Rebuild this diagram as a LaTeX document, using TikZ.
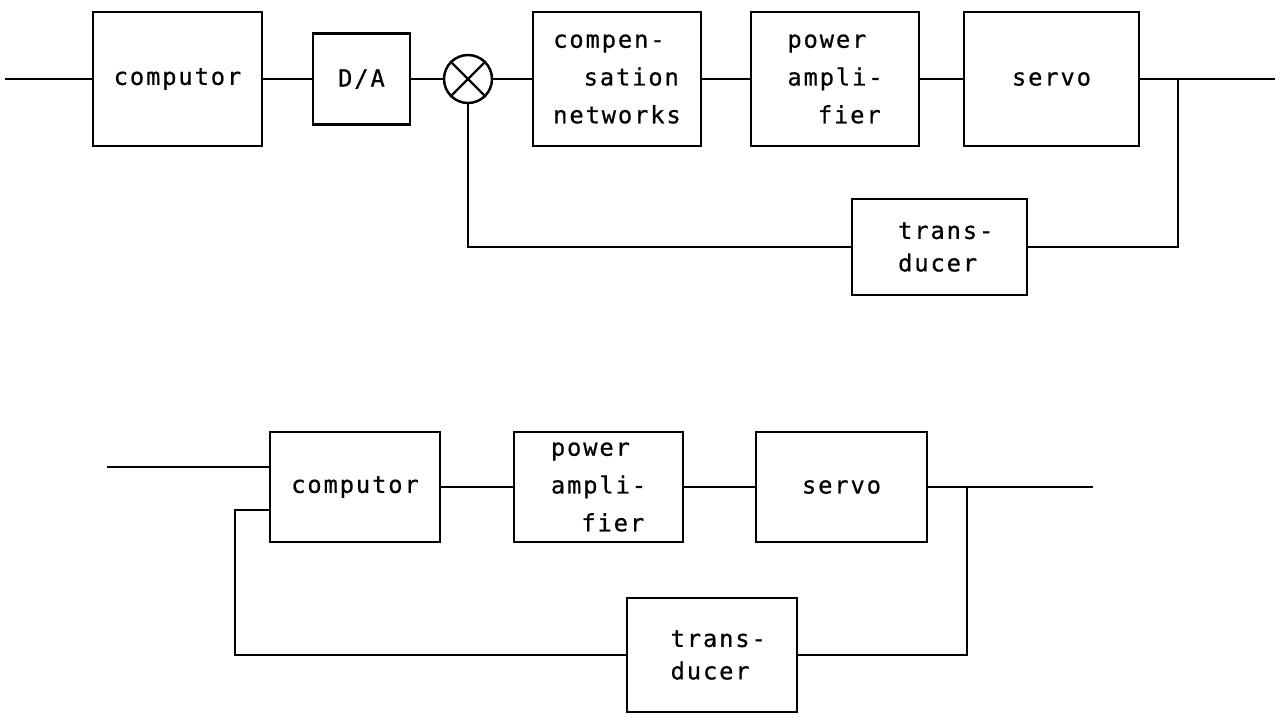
\documentclass[tikz,border=0pt]{standalone}
\usepackage{fontspec}
\newfontfamily\blockfont[LetterSpace=8,FakeBold=0.6]{DejaVu Sans Mono}
\usetikzlibrary{positioning}

\begin{document}
\begin{tikzpicture}[x=0.02cm,y=-0.02cm,
    blk/.style={draw,line width=1.4pt,inner sep=0pt,align=left,
      font={\blockfont\fontsize{13.5}{21.5}\selectfont}},
    wire/.style={line width=1.4pt}]
  \useasboundingbox (0,0) rectangle (1282,721);
  % upper loop
  \coordinate (in1) at (5,79);
  \coordinate (tap1) at (1178,79);
  \coordinate (out1) at (1275,79);
  \node[blk,minimum width=3.38cm,minimum height=2.68cm] (comp1) at (177.5,79) {computor};
  \node[blk,minimum width=1.94cm,minimum height=1.82cm] (da1) at (361.5,79) {D/A};
  \node[draw,circle,line width=1.4pt,minimum size=0.96cm,inner sep=0pt] (sum) at (468,79) {};
  \node[blk,minimum width=3.36cm,minimum height=2.68cm] (comp) at (617,79) {compen-\\\phantom{xx}sation\\networks};
  \node[blk,minimum width=3.36cm,minimum height=2.68cm] (pa1) at (835,79) {power\\ampli-\\\phantom{xx}fier};
  \node[blk,minimum width=3.5cm,minimum height=2.68cm] (sv1) at (1051.5,79) {servo};
  \node[blk,minimum width=3.5cm,minimum height=1.92cm,font={\blockfont\fontsize{13.5}{18.5}\selectfont}] (tr1) at (939.5,247) {\hspace{0.25cm}trans-\\\hspace{0.25cm}ducer};
  \draw[wire] (sum.north west) -- (sum.south east) (sum.north east) -- (sum.south west);
  \draw[wire] (in1) -- (comp1);
  \foreach \a/\b in {comp1/da1,da1/sum,sum/comp,comp/pa1,pa1/sv1}{
    \draw[wire] (\a) -- (\b);
  }
  \draw[wire] (sv1) -- (out1);
  \draw[wire] (tap1) |- (tr1);
  \draw[wire] (tr1) -| (sum);
  % lower loop
  \coordinate (in2) at (107,467);
  \coordinate (fb2) at (235,510);
  \coordinate (tap2) at (967,487);
  \coordinate (out2) at (1093,487);
  \node[blk,minimum width=3.4cm,minimum height=2.2cm] (comp2) at (355,487) {computor};
  \node[blk,minimum width=3.38cm,minimum height=2.2cm] (pa2) at (598.5,487) {power\\ampli-\\\phantom{xx}fier};
  \node[blk,minimum width=3.42cm,minimum height=2.2cm] (sv2) at (841.5,487) {servo};
  \node[blk,minimum width=3.4cm,minimum height=2.28cm,font={\blockfont\fontsize{13.5}{18.5}\selectfont}] (tr2) at (712,655) {\hspace{0.25cm}trans-\\\hspace{0.25cm}ducer};
  \draw[wire] (in2) -- (in2 -| comp2.west);
  \draw[wire] (comp2) -- (pa2);
  \draw[wire] (pa2) -- (sv2);
  \draw[wire] (sv2) -- (out2);
  \draw[wire] (tap2) |- (tr2);
  \draw[wire] (tr2) -| (fb2) -- (fb2 -| comp2.west);
\end{tikzpicture}
\end{document}
